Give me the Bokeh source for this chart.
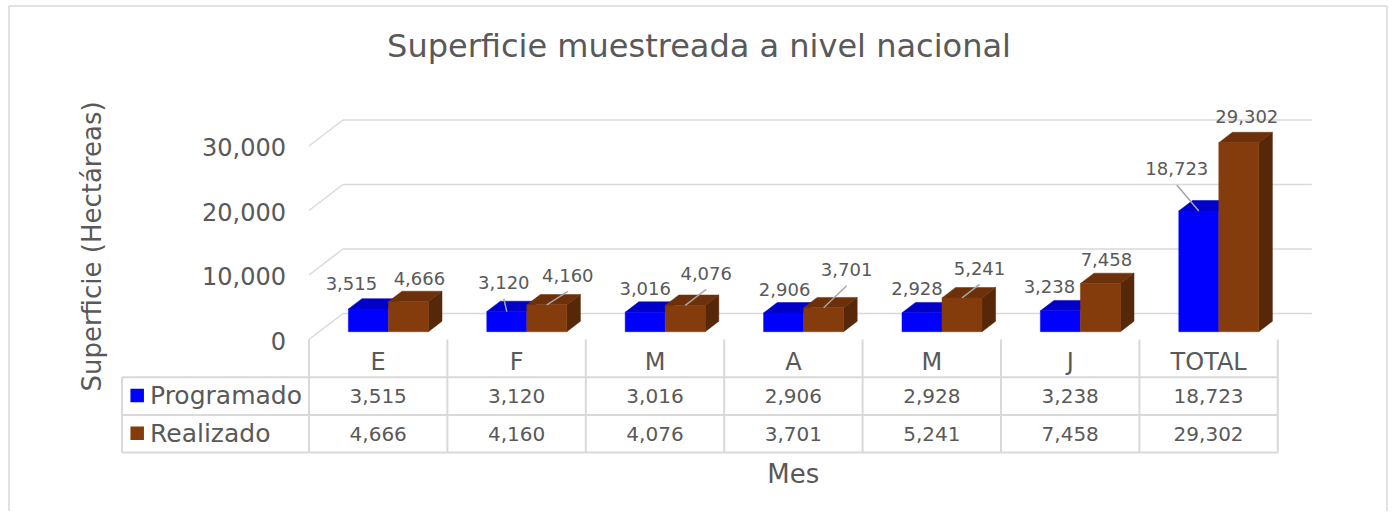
import math
from bokeh.plotting import figure
from bokeh.models import Range1d
from bokeh.embed import file_html
from bokeh.resources import INLINE
from bokeh.core.properties import value

# ---------------- data ----------------
categories = ["E", "F", "M", "A", "M", "J", "TOTAL"]
programado = [3515, 3120, 3016, 2906, 2928, 3238, 18723]
realizado = [4666, 4160, 4076, 3701, 5241, 7458, 29302]
y_ticks = [0, 10000, 20000, 30000]
series_names = ["Programado", "Realizado"]
chart_title = "Superficie muestreada a nivel nacional"
y_title = "Superficie (Hectáreas)"
x_title = "Mes"

# ---------------- styles / layout (pixels) ----------------
FONT = value("DejaVu Sans")
TXT = "#595959"
GRID = "#D9D9D9"
FRONT = ["#0000FF", "#843C0C"]
TOP = ["#0000C8", "#6C310B"]
SIDE = ["#0000A0", "#572709"]

# data-label offsets in px relative to the bar's top-front centre
prog_label_dx = [-17, -3, 0, 1, -5, -11, -22]
prog_label_dy = [-26, -29, -24, -23.5, -24, -24.5, -42]
real_label_dx = [11, 21, 21, 23, 17.5, 6, 8]
real_label_dy = [-23, -29.5, -32, -38, -29.5, -24, -26]
prog_leader = [False, True, False, False, False, False, True]
real_leader = [False, True, True, True, True, False, False]

W, H = 1388, 511
COL_W = 138.4
CAT0_PX = 377.7
PX_PER_HA = 0.00645
FLOOR_PY = 339.0
DEPTH_DX, DEPTH_DY = 34.0, 26.0
D_FRONT, D_BACK = 0.3, 0.7
BAR_W = 40.0 / COL_W
ROW_H = 37.7
TABLE_LEFT_PX = 121.5

x_start = -CAT0_PX / COL_W
x_end = x_start + W / COL_W
y_end = FLOOR_PY / PX_PER_HA
y_start = y_end - H / PX_PER_HA


def X(px):
    return x_start + px / COL_W


def Y(py):
    return y_end - py / PX_PER_HA


def dX(px):
    return px / COL_W


def dY(py):
    return -py / PX_PER_HA


DXU = DEPTH_DX / COL_W
DVU = DEPTH_DY / PX_PER_HA

p = figure(width=W, height=H, x_range=Range1d(x_start, x_end),
           y_range=Range1d(y_start, y_end), output_backend="svg",
           toolbar_location=None, min_border=0,
           x_axis_location=None, y_axis_location=None)
p.outline_line_color = None
p.grid.visible = False
p.background_fill_color = "white"
p.border_fill_color = "white"

n = len(categories)
left_edge = -0.5
right_edge = n - 0.5


def txt(x, y, t, size, align="center", **kw):
    p.text(x=x, y=y, text=t, text_font=FONT, text_font_size=value(f"{size}px"),
           text_color=TXT, text_align=align, text_baseline="middle", **kw)


# ---- card border (left, top, right) ----
p.segment([X(8.5), X(8.5), X(1386.5)], [Y(5.5), Y(5.5), Y(5.5)],
          [X(8.5), X(1386.5), X(1386.5)], [Y(H + 2), Y(5.5), Y(H + 2)],
          line_color=GRID, line_width=1.5)

# ---- 3D gridlines (side diagonal + back wall) ----
gx0, gy0, gx1, gy1 = [], [], [], []
for g in y_ticks:
    gx0 += [left_edge, left_edge + DXU]
    gy0 += [g, g + DVU]
    gx1 += [left_edge + DXU, right_edge + DXU]
    gy1 += [g + DVU, g + DVU]
p.segment(gx0, gy0, gx1, gy1, line_color=GRID, line_width=1.5)

# tick labels
txt([X(285.5)] * len(y_ticks), [g + dY(1) for g in y_ticks],
    [f"{g:,}" for g in y_ticks], 24, align="right")

# ---- bars ----
f0x, f0y = D_FRONT * DXU, D_FRONT * DVU
b0x, b0y = D_BACK * DXU, D_BACK * DVU
for s, vals in enumerate([programado, realizado]):
    lefts = [i - BAR_W if s == 0 else i for i in range(n)]
    rights = [l + BAR_W for l in lefts]
    if s == 1:
        p.patches([[r + f0x, r + b0x, r + b0x, r + f0x] for r in rights],
                  [[f0y, b0y, v + b0y, v + f0y] for v in vals],
                  fill_color=SIDE[s], line_color=SIDE[s], line_width=0.5)
    p.patches([[l + f0x, r + f0x, r + b0x, l + b0x] for l, r in zip(lefts, rights)],
              [[v + f0y, v + f0y, v + b0y, v + b0y] for v in vals],
              fill_color=TOP[s], line_color=TOP[s], line_width=0.5)
    p.quad(left=[l + f0x for l in lefts], right=[r + f0x for r in rights],
           bottom=[f0y] * n, top=[v + f0y for v in vals],
           fill_color=FRONT[s], line_color=FRONT[s], line_width=0.5)

# ---- data labels with leader lines ----
for s, (vals, ldx, ldy, lead) in enumerate([
        (programado, prog_label_dx, prog_label_dy, prog_leader),
        (realizado, real_label_dx, real_label_dy, real_leader)]):
    cx = [(i - BAR_W / 2 if s == 0 else i + BAR_W / 2) + f0x for i in range(n)]
    cy = [v + f0y for v in vals]
    lx = [c + dX(dx) for c, dx in zip(cx, ldx)]
    ly = [c + dY(dy) for c, dy in zip(cy, ldy)]
    txt(lx, ly, [f"{v:,}" for v in vals], 18)
    sx0, sy0, sx1, sy1 = [], [], [], []
    for k in range(n):
        if lead[k]:
            sx0.append(lx[k]); sy0.append(ly[k] + dY(16))
            sx1.append(cx[k]); sy1.append(cy[k])
    if sx0:
        p.segment(sx0, sy0, sx1, sy1, line_color="#A6A6A6", line_width=1.5)

# ---- data table ----
row_py = [FLOOR_PY + ROW_H * (k + 1) for k in range(3)]
hy = [Y(r) for r in row_py]
p.segment([X(TABLE_LEFT_PX)] * 3, hy, [right_edge] * 3, hy,
          line_color=GRID, line_width=2)
vx = [left_edge + k for k in range(n + 1)]
p.segment(vx, [0] * len(vx), vx, [Y(row_py[-1])] * len(vx),
          line_color=GRID, line_width=2)
p.segment([X(TABLE_LEFT_PX)], [Y(row_py[0])], [X(TABLE_LEFT_PX)], [Y(row_py[-1])],
          line_color=GRID, line_width=2)

txt(list(range(n)), [Y(361.7)] * n, categories, 24)
for vals, rc in zip([programado, realizado], [395.8, 433.5]):
    txt(list(range(n)), [Y(rc)] * n, [f"{v:,}" for v in vals], 20)

# legend keys inside the table
p.scatter(x=[X(136.7)] * 2, y=[Y(395.0), Y(432.8)], marker="square", size=13.5,
          fill_color=FRONT, line_color=None)
txt([X(149.5)] * 2, [Y(395.0), Y(432.8)], series_names, 25, align="left")

# ---- titles ----
txt([X(698.5)], [Y(45.5)], [chart_title], 32)
txt([X(91)], [Y(246)], [y_title], 26, angle=math.pi / 2)
txt([X(792.7)], [Y(473.7)], [x_title], 26)

open("out.html", "w").write(file_html(p, INLINE))
